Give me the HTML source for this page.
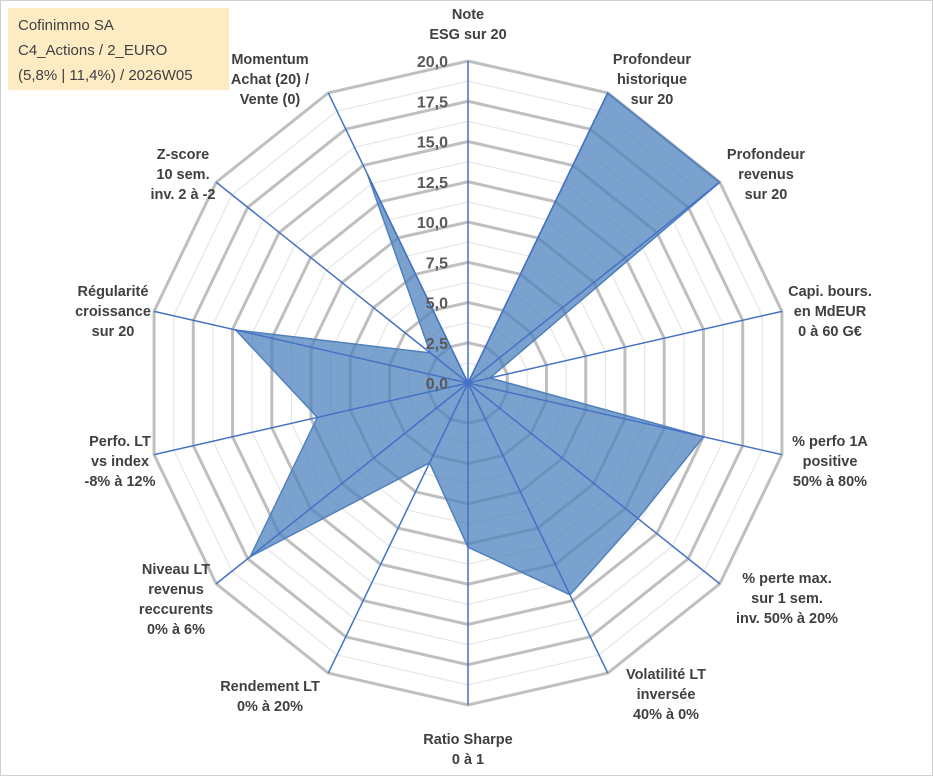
<!DOCTYPE html>
<html><head><meta charset="utf-8"><style>
body{margin:0;background:#fff;}
svg{display:block;font-family:"Liberation Sans",Arial,sans-serif;}
.lbl{font-size:14.5px;font-weight:bold;fill:#404040;text-anchor:middle;}
.tick{font-size:16px;font-weight:bold;fill:#595959;text-anchor:end;}
</style></head><body>
<svg id="chart" width="933" height="776" viewBox="0 0 933 776">
<rect x="0.5" y="0.5" width="932" height="775" fill="#fff" stroke="#d0d0d0"/>
<g id="grid"></g><g id="series"></g><g id="axes"></g><g id="ticks"></g><g id="labels"></g>
<rect x="8" y="8" width="221" height="82" fill="#fdebc4"/>
<text x="18" y="30" font-size="15" fill="#404040">Cofinimmo SA</text>
<text x="18" y="55" font-size="15" fill="#404040">C4_Actions / 2_EURO</text>
<text x="18" y="80" font-size="15" fill="#404040">(5,8% | 11,4%) / 2026W05</text>
</svg>
<script>
const categories=[["Note","ESG sur 20"],["Profondeur","historique","sur 20"],["Profondeur","revenus","sur 20"],["Capi. bours.","en MdEUR","0 à 60 G€"],["% perfo 1A","positive","50% à 80%"],["% perte max.","sur 1 sem.","inv. 50% à 20%"],["Volatilité LT","inversée","40% à 0%"],["Ratio Sharpe","0 à 1"],["Rendement LT","0% à 20%"],["Niveau LT","revenus","reccurents","0% à 6%"],["Perfo. LT","vs index","-8% à 12%"],["Régularité","croissance","sur 20"],["Z-score","10 sem.","inv. 2 à -2"],["Momentum","Achat (20) /","Vente (0)"]];
const values=[0,20,20,1.4,15,13.5,14.6,10.2,5.5,17.3,9.6,14.8,3.0,14.4];
const tickLabels=["0,0","2,5","5,0","7,5","10,0","12,5","15,0","17,5","20,0"];
const maxVal=20;
// label layout: [centerX, firstBaselineY]
const labelPos=[[468,19],[652,64],[766,159],[830,296],[830,446],[787,583],[666,679],[468,744],[270,691],[176,574],[120,446],[113,296],[183,159],[270,64]];
const cx=468,cy=383,R=322,N=categories.length;
const ns="http://www.w3.org/2000/svg";
function ang(i){return (i/N)*2*Math.PI;}
function pt(i,v){const r=v/maxVal*R;return [cx+r*Math.sin(ang(i)),cy-r*Math.cos(ang(i))];}
function mk(tag,attrs,parent){const e=document.createElementNS(ns,tag);for(const k in attrs)e.setAttribute(k,attrs[k]);document.getElementById(parent).appendChild(e);return e;}
for(let s=1;s<=16;s++){const v=s*1.25;const p=[];for(let i=0;i<N;i++)p.push(pt(i,v).join(","));
const g=mk("polygon",{points:p.join(" "),fill:"none",stroke:s%2==0?"#bfbfbf":"#e6e6e6","stroke-width":s%2==0?3:1.2},"grid");

}
const sp=values.map((v,i)=>pt(i,v).join(",")).join(" ");
const poly=mk("polygon",{points:sp,fill:"#4f81bd","fill-opacity":0.75,stroke:"#4f81bd","stroke-width":1.5},"series");


for(let i=0;i<N;i++){const [x,y]=pt(i,maxVal);
const l=mk("line",{x1:cx,y1:cy,x2:x,y2:y,stroke:"#4472c4","stroke-width":1.5},"axes");

}
tickLabels.forEach((t,k)=>{const y=cy-(k*2.5/maxVal)*R;
const e=mk("text",{x:cx-20,y:y+6,class:"tick"},"ticks");e.textContent=t;

});
const lh=20;
categories.forEach((lines,i)=>{const [x,y0]=labelPos[i];
const t=mk("text",{class:"lbl",x:x,y:y0},"labels");


lines.forEach((s,j)=>{const ts=document.createElementNS(ns,"tspan");ts.setAttribute("x",x);ts.setAttribute("dy",j?lh:0);ts.textContent=s;t.appendChild(ts);});});
</script>
</body></html>
